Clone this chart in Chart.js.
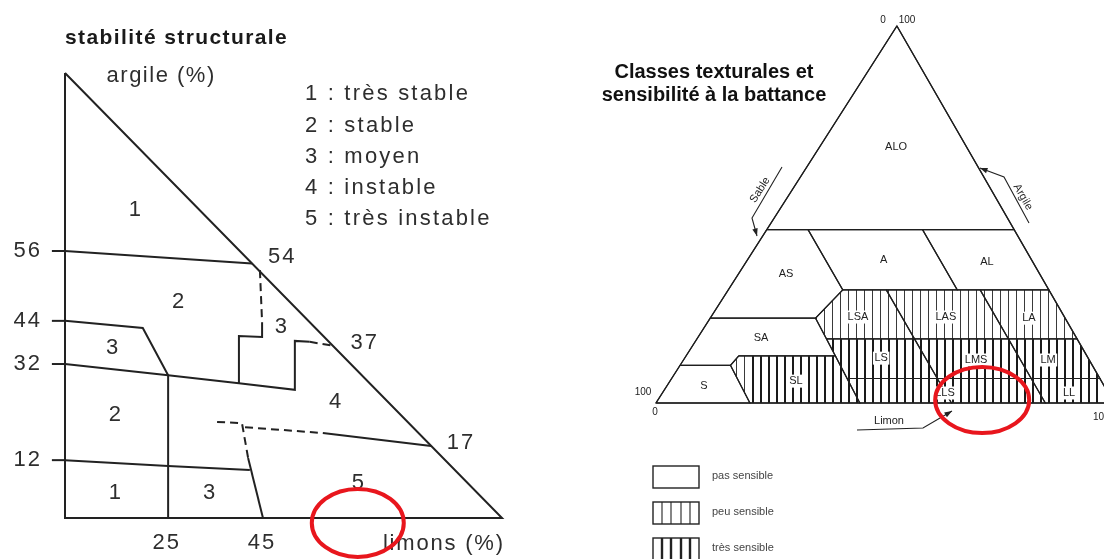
<!DOCTYPE html>
<html lang="fr">
<head>
<meta charset="utf-8">
<script src="https://cdn.jsdelivr.net/npm/chart.js@4.4.1/dist/chart.umd.min.js"></script>
<style>
  html, body { margin: 0; padding: 0; background: #fff; overflow: hidden; }
  #wrap { position: relative; width: 1104px; height: 559px; }
  canvas { position: absolute; top: 0; }
  #left { left: 0; }
  #right { left: 560px; }
</style>
</head>
<body>
<div id="wrap">
  <canvas id="left" width="560" height="559"></canvas>
  <canvas id="right" width="544" height="559"></canvas>
</div>
<script>
const INK = '#222';
const RED = '#e8161d';

// ---- left diagram: stabilité structurale, points are [limons %, argile %] ----
const stabTickLabels = ['56', '44', '32', '12'];
const stabTickArgile = [60, 44.3, 34.6, 13];
const stabEdgeLabels = ['54', '37', '17'];
const stabEdgePoints = [[49.7, 58.7], [68.6, 39.4], [90.6, 16.8]];
const stabBaseLabels = ['25', '45'];
const stabBaseLimon = [23.3, 45.1];
const stabZoneLabels = ['1', '2', '3', '2', '1', '3', '3', '4', '5'];
const stabZonePoints = [[16, 69.2], [25.9, 48.5], [10.8, 38.2], [11.4, 23.1], [11.4, 5.6], [33, 5.6], [49.4, 42.9], [61.8, 26.1], [67, 7.9]];
const stabClasses = ['1 : très stable', '2 : stable', '3 : moyen', '4 : instable', '5 : très instable'];
const stabSolid = [
  [[0, 100], [0, 0], [100, 0], [0, 100]],
  [[0, 60], [42.8, 57.2]],
  [[0, 44.3], [17.8, 42.7], [23.6, 32.1]],
  [[0, 34.6], [23.6, 32.1], [39.8, 30.3], [52.6, 28.8], [52.6, 39.8], [56, 39.6]],
  [[45.1, 44], [45.1, 40.7], [39.8, 40.9], [39.8, 30.3]],
  [[23.6, 32.1], [23.6, 0]],
  [[0, 13], [23.6, 11.7], [42.3, 10.8]],
  [[41.9, 13.5], [45.3, 0]],
  [[59, 19.1], [83.8, 16.2]]
];
const stabDashed = [
  [[44.6, 55.7], [45.1, 44]],
  [[56, 39.6], [61.3, 38.7]],
  [[34.8, 21.6], [40.5, 21.3], [41.9, 13.5]],
  [[41.2, 20.4], [59, 19.1]]
];
const stabCircle = [67, -1.1];

// ---- right diagram: classes texturales, points are [limon %, argile %] ----
const textureZones = ['ALO', 'AS', 'A', 'AL', 'LSA', 'LAS', 'LA', 'SA', 'LS', 'LMS', 'LM', 'S', 'SL', '', 'LLS', 'LL'];
// 0 pas sensible, 1 peu sensible, 2 très sensible
const textureSensitivity = [0, 0, 0, 0, 1, 1, 1, 0, 2, 2, 2, 0, 2, 2, 2, 2];
const texturePolygons = [
  [[0, 100], [0, 46], [54, 46]],
  [[0, 46], [9, 46], [25, 30], [23, 22.5], [0, 22.5]],
  [[9, 46], [34, 46], [50, 30], [25, 30]],
  [[34, 46], [54, 46], [70, 30], [50, 30]],
  [[25, 30], [34.5, 30], [47.5, 17], [28.3, 17], [23, 22.5]],
  [[34.5, 30], [55, 30], [68, 17], [47.5, 17]],
  [[55, 30], [70, 30], [83, 17], [68, 17]],
  [[0, 22.5], [23, 22.5], [32.6, 12.5], [11.5, 12.5], [11, 10], [0, 10]],
  [[28.3, 17], [47.5, 17], [58, 6.5], [38.3, 6.5]],
  [[47.5, 17], [68, 17], [78.5, 6.5], [58, 6.5]],
  [[68, 17], [83, 17], [93.5, 6.5], [78.5, 6.5]],
  [[0, 10], [11, 10], [20.5, 0], [0, 0]],
  [[11.5, 12.5], [32.6, 12.5], [44.5, 0], [20.5, 0], [11, 10]],
  [[38.3, 6.5], [58, 6.5], [64.5, 0], [44.5, 0]],
  [[58, 6.5], [78.5, 6.5], [85, 0], [64.5, 0]],
  [[78.5, 6.5], [93.5, 6.5], [100, 0], [85, 0]]
];
const textureLabelPoints = [
  [16.7, 67.9], [10.4, 34.2], [29.8, 37.9], [52.6, 37.4], [32.1, 22.8], [51.3, 22.8], [69.6, 22.5],
  [13.9, 17.2], [42.9, 11.9], [63.9, 11.4], [79.6, 11.4], [8.1, 4.5], [27.5, 5.8], null, [61.7, 2.65], [88.8, 2.65]
];
const slLightPart = [[11.5, 12.5], [13.95, 12.5], [20.5, 0], [11, 10]];
const sensitivityNames = ['pas sensible', 'peu sensible', 'très sensible'];
const textureCircle = [70.8, 0.8];

const SKEW = 0.526; // the apex sits at 52.6 % of the base in this drawing

function toXY(pts) { return pts.map(p => ({ x: p[0], y: p[1] })); }
function toTern(pts) { return pts.map(p => ({ x: p[0] + SKEW * p[1], y: p[1] })); }
function ring(pts) { return pts.concat([pts[0]]); }

function lineSet(data, opts) {
  return Object.assign({
    data: data, showLine: true, pointRadius: 0, borderColor: INK, borderWidth: 2,
    borderDash: [], fill: false, clip: false, tension: 0, borderJoinStyle: 'miter'
  }, opts || {});
}

function drawText(ctx, str, x, y, font, color, align, spacing) {
  ctx.save();
  ctx.font = font;
  ctx.fillStyle = color;
  ctx.textAlign = align || 'center';
  ctx.textBaseline = 'middle';
  if ('letterSpacing' in ctx) ctx.letterSpacing = spacing || '0px';
  ctx.fillText(str, x, y);
  ctx.restore();
}

function ellipse(ctx, cx, cy, rx, ry) {
  ctx.save();
  ctx.strokeStyle = RED;
  ctx.lineWidth = 4;
  ctx.beginPath();
  ctx.ellipse(cx, cy, rx, ry, 0, 0, Math.PI * 2);
  ctx.stroke();
  ctx.restore();
}

const baseOptions = {
  responsive: false,
  animation: false,
  events: [],
  plugins: { legend: { display: false }, tooltip: { enabled: false } }
};

// ---------------- left chart ----------------
const leftDatasets = [];
stabSolid.forEach(l => leftDatasets.push(lineSet(toXY(l))));
stabDashed.forEach(l => leftDatasets.push(lineSet(toXY(l), { borderDash: [8, 5] })));
stabTickArgile.forEach(a => leftDatasets.push(lineSet(toXY([[-3, a], [0, a]]))));

const leftText = {
  id: 'leftText',
  afterDraw(chart) {
    const ctx = chart.ctx;
    const X = v => chart.scales.x.getPixelForValue(v);
    const Y = v => chart.scales.y.getPixelForValue(v);
    const f = '22px "Liberation Sans", Arial, sans-serif';
    const c = '#2e2e2e';
    drawText(ctx, 'stabilité structurale', 65, 38, 'bold 21px "Liberation Sans", Arial, sans-serif', '#1a1a1a', 'left', '1.4px');
    drawText(ctx, 'argile (%)', X(22), Y(99.3), f, c, 'center', '1.5px');
    drawText(ctx, 'limons (%)', X(86.7), Y(-5.8), f, c, 'center', '1.8px');
    stabTickLabels.forEach((t, i) => drawText(ctx, t, X(-8.5), Y(stabTickArgile[i]), f, c, 'center', '2px'));
    stabEdgeLabels.forEach((t, i) => drawText(ctx, t, X(stabEdgePoints[i][0]), Y(stabEdgePoints[i][1]), f, c, 'center', '2px'));
    stabBaseLabels.forEach((t, i) => drawText(ctx, t, X(stabBaseLimon[i]), Y(-5.6), f, c, 'center', '2px'));
    stabZoneLabels.forEach((t, i) => drawText(ctx, t, X(stabZonePoints[i][0]), Y(stabZonePoints[i][1]), f, c, 'center'));
    const rows = [94, 126, 157, 188, 219];
    stabClasses.forEach((t, i) => drawText(ctx, t, 305, rows[i], f, c, 'left', '2.2px'));
    ellipse(ctx, X(stabCircle[0]), Y(stabCircle[1]), 46, 34);
  }
};

new Chart(document.getElementById('left'), {
  type: 'scatter',
  data: { datasets: leftDatasets },
  options: Object.assign({}, baseOptions, {
    layout: { padding: { left: 65, right: 58, top: 73, bottom: 41 } },
    scales: {
      x: { type: 'linear', min: 0, max: 100, display: false },
      y: { type: 'linear', min: 0, max: 100, display: false }
    }
  }),
  plugins: [leftText]
});

// ---------------- right chart ----------------
function makeHatch(ctx, width, color) {
  const c = document.createElement('canvas');
  c.width = 8; c.height = 8;
  const g = c.getContext('2d');
  g.fillStyle = '#fff';
  g.fillRect(0, 0, 8, 8);
  g.fillStyle = color;
  g.fillRect(0, 0, width, 8);
  return ctx.createPattern(c, 'repeat');
}

const rightDatasets = texturePolygons.map((poly, i) => lineSet(toTern(ring(poly)), {
  borderWidth: 1.2, borderColor: '#1e1e1e', hatch: textureSensitivity[i]
}));
rightDatasets.push(lineSet(toTern(ring(slLightPart)), { borderColor: 'rgba(0,0,0,0)', hatch: 1 }));
rightDatasets.push(lineSet(toTern([[0, 0], [100, 0], [0, 100], [0, 0]]), { borderWidth: 1.3, borderColor: '#1e1e1e' }));

const hatchFill = {
  id: 'hatchFill',
  beforeDatasetsDraw(chart) {
    const ctx = chart.ctx;
    const pats = [null, makeHatch(ctx, 1, '#3a3a3a'), makeHatch(ctx, 2, '#1a1a1a')];
    chart.data.datasets.forEach((ds, i) => {
      if (!ds.hatch) return;
      const pts = chart.getDatasetMeta(i).data;
      ctx.save();
      ctx.beginPath();
      pts.forEach((p, k) => k ? ctx.lineTo(p.x, p.y) : ctx.moveTo(p.x, p.y));
      ctx.closePath();
      ctx.fillStyle = pats[ds.hatch];
      ctx.fill();
      ctx.restore();
    });
  }
};

function arrowLine(ctx, pts) {
  ctx.save();
  ctx.strokeStyle = '#222';
  ctx.fillStyle = '#222';
  ctx.lineWidth = 1.1;
  ctx.beginPath();
  pts.forEach((p, k) => k ? ctx.lineTo(p[0], p[1]) : ctx.moveTo(p[0], p[1]));
  ctx.stroke();
  const a = pts[pts.length - 2], b = pts[pts.length - 1];
  const ang = Math.atan2(b[1] - a[1], b[0] - a[0]);
  ctx.beginPath();
  ctx.moveTo(b[0], b[1]);
  ctx.lineTo(b[0] - 8 * Math.cos(ang - 0.35), b[1] - 8 * Math.sin(ang - 0.35));
  ctx.lineTo(b[0] - 8 * Math.cos(ang + 0.35), b[1] - 8 * Math.sin(ang + 0.35));
  ctx.closePath();
  ctx.fill();
  ctx.restore();
}

function rotText(ctx, str, x, y, angle) {
  ctx.save();
  ctx.translate(x, y);
  ctx.rotate(angle);
  drawText(ctx, str, 0, 0, '11px "Liberation Sans", Arial, sans-serif', '#222', 'center');
  ctx.restore();
}

const rightText = {
  id: 'rightText',
  afterDraw(chart) {
    const ctx = chart.ctx;
    const P = (l, a) => [chart.scales.x.getPixelForValue(l + SKEW * a), chart.scales.y.getPixelForValue(a)];
    const lf = '11px "Liberation Sans", Arial, sans-serif';
    textureZones.forEach((name, i) => {
      const pt = textureLabelPoints[i];
      if (!name || !pt) return;
      const [x, y] = P(pt[0], pt[1]);
      if (textureSensitivity[i]) {
        ctx.save();
        ctx.font = lf;
        const w = ctx.measureText(name).width;
        ctx.fillStyle = '#fff';
        ctx.fillRect(x - w / 2 - 1.5, y - 6.5, w + 3, 13);
        ctx.restore();
      }
      drawText(ctx, name, x, y, lf, '#222', 'center');
    });
    const [cx, cy] = P(textureCircle[0], textureCircle[1]);

    // decorations in page coordinates
    ctx.save();
    ctx.translate(-560, 0);
    const tf = 'bold 20px "Liberation Sans", Arial, sans-serif';
    drawText(ctx, 'Classes texturales et', 714, 72, tf, '#111', 'center');
    drawText(ctx, 'sensibilité à la battance', 714, 95, tf, '#111', 'center');
    const sf = '10px "Liberation Sans", Arial, sans-serif';
    drawText(ctx, '0', 883, 20, sf, '#222', 'center');
    drawText(ctx, '100', 907, 20, sf, '#222', 'center');
    drawText(ctx, '100', 643, 392, sf, '#222', 'center');
    drawText(ctx, '0', 655, 412, sf, '#222', 'center');
    drawText(ctx, '100', 1093, 417, sf, '#222', 'left');
    rotText(ctx, 'Sable', 760, 190, -1.0);
    arrowLine(ctx, [[782, 167], [752, 218], [757, 236]]);
    rotText(ctx, 'Argile', 1023, 197, 1.05);
    arrowLine(ctx, [[1029, 223], [1004, 177], [980, 168]]);
    drawText(ctx, 'Limon', 889, 421, lf, '#222', 'center');
    arrowLine(ctx, [[857, 430], [923, 428], [952, 411]]);

    // legend
    const rows = [466, 502, 538];
    sensitivityNames.forEach((name, i) => {
      const top = rows[i];
      ctx.save();
      ctx.fillStyle = '#fff';
      ctx.fillRect(653, top, 46, 22);
      ctx.strokeStyle = '#222';
      ctx.lineWidth = 1.4;
      if (i > 0) {
        ctx.lineWidth = i === 1 ? 1.1 : 2.4;
        [662, 671, 681, 690].forEach(x => {
          ctx.beginPath(); ctx.moveTo(x, top); ctx.lineTo(x, top + 22); ctx.stroke();
        });
        ctx.lineWidth = 1.4;
      }
      ctx.strokeRect(653, top, 46, 22);
      ctx.restore();
      drawText(ctx, name, 712, top + 10, lf, '#444', 'left');
    });
    ctx.restore();

    ellipse(ctx, cx, cy, 47, 33);
  }
};

new Chart(document.getElementById('right'), {
  type: 'scatter',
  data: { datasets: rightDatasets },
  options: Object.assign({}, baseOptions, {
    layout: { padding: { left: 96, right: 0, top: 26, bottom: 156 } },
    scales: {
      x: { type: 'linear', min: 0, max: 97.82, display: false },
      y: { type: 'linear', min: 0, max: 100, display: false }
    }
  }),
  plugins: [hatchFill, rightText]
});
</script>
</body>
</html>
